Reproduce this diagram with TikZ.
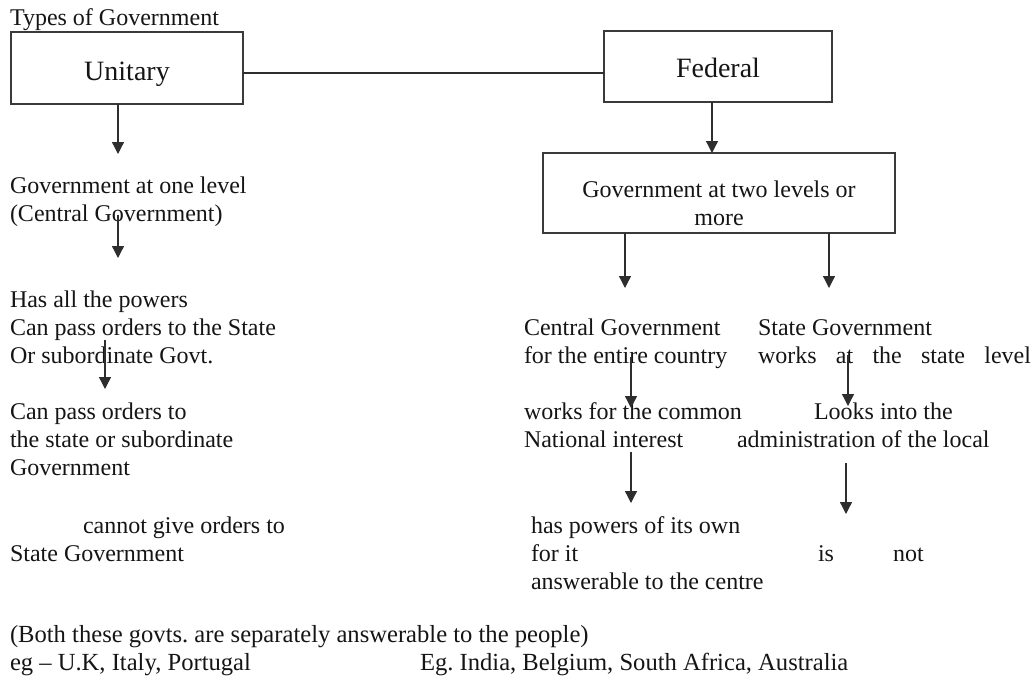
\documentclass[tikz,border=0pt]{standalone}
\usepackage{fontspec}
\setmainfont{Liberation Serif}
\usetikzlibrary{arrows.meta}
\definecolor{linec}{HTML}{2E2E2E}
\definecolor{boxc}{HTML}{3A3A3A}
\definecolor{txtc}{HTML}{151515}
\frenchspacing
\begin{document}
\begin{tikzpicture}[x=1pt,y=-1pt,
  txt/.style={anchor=base west, inner sep=0pt, outer sep=0pt, text=txtc, font=\fontsize{24}{28}\selectfont},
  btxt/.style={anchor=base west, inner sep=0pt, outer sep=0pt, text=txtc, font=\fontsize{24.6}{28}\selectfont},
  bigtxt/.style={anchor=base, inner sep=0pt, outer sep=0pt, text=txtc, font=\fontsize{28}{32}\selectfont},
  boxn/.style={draw=boxc, line width=1.4pt, inner sep=0pt, outer sep=0pt, anchor=north west},
  arr/.style={draw=linec, line width=1.3pt, -{Triangle[width=12pt,length=12pt]}},
  conn/.style={draw=linec, line width=1.3pt}]
\useasboundingbox (0,0) rectangle (1034,681);

% boxes
\node[boxn, minimum width=232pt, minimum height=72pt] (unitary) at (11,32) {};
\node[boxn, minimum width=228pt, minimum height=71pt] (federal) at (604,31) {};
\node[boxn, minimum width=352pt, minimum height=80pt] (two) at (543,153) {};
\node[bigtxt] (unitaryt) at (127,80) {Unitary};
\node[bigtxt] (federalt) at (718,77) {Federal};
\node[txt, anchor=base] (twot1) at (719,197) {Government at two levels or};
\node[txt, anchor=base] (twot2) at (719,225) {more};

% left column
\node[txt] (title) at (10,25) {Types of Government};
\node[txt] (l1a) at (10,193) {Government at one level};
\node[txt] (l1b) at (10,221) {(Central Government)};
\node[txt] (l2a) at (10,307) {Has all the powers};
\node[txt] (l2b) at (10,335) {Can pass orders to the State};
\node[txt] (l2c) at (10,363) {Or subordinate Govt.};
\node[txt] (l3a) at (10,419) {Can pass orders to};
\node[txt] (l3b) at (10,447) {the state or subordinate};
\node[txt] (l3c) at (10,475) {Government};
\node[txt] (l4a) at (83,533) {cannot give orders to};
\node[txt] (l4b) at (10,561) {State Government};

% right columns
\node[txt] (r1a) at (524,335) {Central Government};
\node[txt] (r1b) at (524,363) {for the entire country};
\node[txt] (s1a) at (758,335) {State Government};
\node[txt] (s1b) at (758,363) {\makebox[273pt][s]{works at the state level}};
\node[txt] (r2a) at (524,419) {works for the common};
\node[txt] (r2b) at (524,447) {National interest};
\node[txt] (s2a) at (814,419) {Looks into the};
\node[txt] (s2b) at (737,447) {administration of the local};
\node[txt] (r3a) at (531,533) {has powers of its own};
\node[txt] (r3b) at (531,561) {for it};
\node[txt] (s3a) at (818,561) {is};
\node[txt] (s3b) at (893,561) {not};
\node[txt] (r3c) at (531,589) {answerable to the centre};

% bottom
\node[btxt] (both) at (10,642) {(Both these govts. are separately answerable to the people)};
\node[btxt] (egu) at (10,670) {eg – U.K, Italy, Portugal};
\node[btxt] (egf) at (420,670) {Eg. India, Belgium, South Africa, Australia};

% connectors
\draw[conn] (unitary.east |- 0,73) -- (federal.west |- 0,73);

\coordinate (a1e) at (118,154);
\draw[arr] (unitary.south -| a1e) -- (a1e);
\coordinate (a2e) at (118,258);
\draw[arr] (l1b.center -| a2e) -- (a2e);
\coordinate (a3e) at (105,389);
\draw[arr] (l2b.south -| a3e) -- (a3e);
\coordinate (a4e) at (712,153);
\draw[arr] (federal.south -| a4e) -- (a4e);
\coordinate (a5e) at (625,288);
\draw[arr] (two.south -| a5e) -- (a5e);
\coordinate (a6e) at (829,288);
\draw[arr] (two.south -| a6e) -- (a6e);
\coordinate (a7e) at (631,408);
\draw[arr] (r1b.center -| a7e) -- (a7e);
\coordinate (a8e) at (848,406);
\draw[arr] (s1b.center -| a8e) -- (a8e);
\coordinate (a9e) at (631,503);
\draw[arr] ([yshift=-5pt]r2b.south -| a9e) -- (a9e);
\coordinate (a10e) at (846,514);
\draw[arr] ([yshift=-16pt]s2b.south -| a10e) -- (a10e);
\end{tikzpicture}
\end{document}
